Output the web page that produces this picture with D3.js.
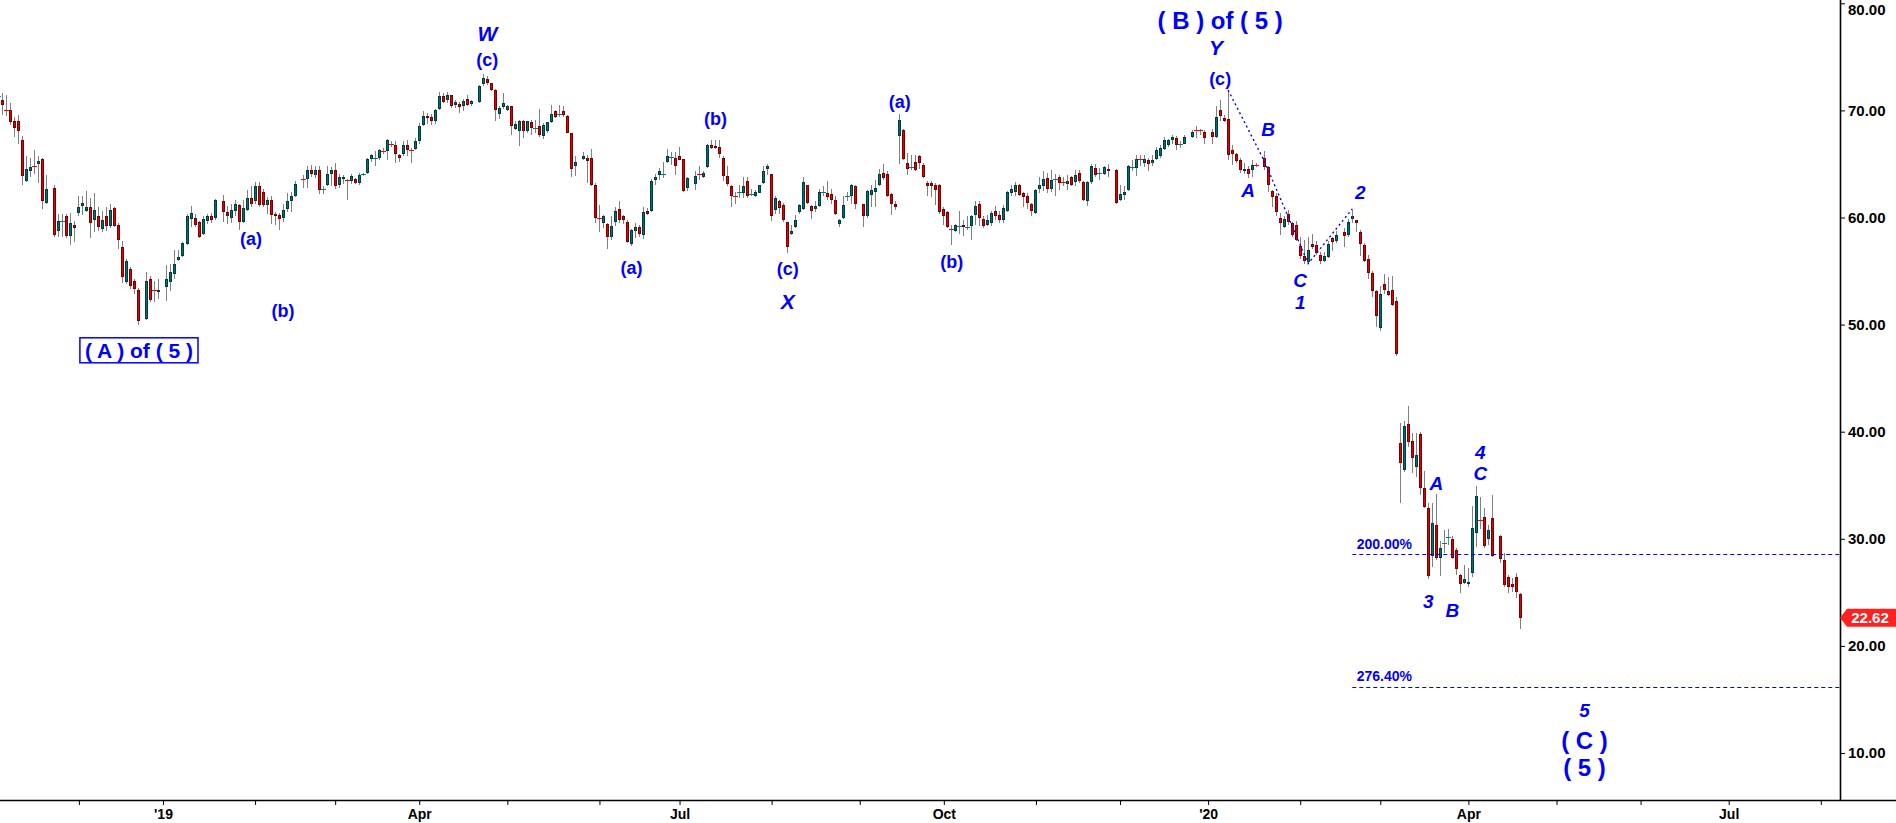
<!DOCTYPE html>
<html lang="en">
  <head>
    <meta charset="UTF-8" />
    <title>Elliott Wave Candlestick Chart</title>
    <script src="https://d3js.org/d3.v7.min.js"></script>
    <style>
      body {
        margin: 0;
        background: #fff;
      }
      svg {
        display: block;
        font-family: Arial, "Liberation Sans", sans-serif;
      }
    </style>
  </head>
  <body>
    <svg id="chart" width="1896" height="823"></svg>
    <script>
      // Daily candles from the first trading day; holidays are weekdays with no bar
      const startDate = "2018-11-05";
      const holidays = [
        "2018-11-22", "2018-12-25", "2019-01-01", "2019-01-21", "2019-02-18",
        "2019-04-19", "2019-05-27", "2019-07-04", "2019-09-02", "2019-11-28",
        "2019-12-25", "2020-01-01", "2020-01-20", "2020-02-17", "2020-04-10",
      ];

      const open = [
        71.35, 71.0, 70.05, 70.0, 69.0, 69.0, 67.2, 63.4, 64.3, 64.85,
        65.0, 65.5, 61.4, 62.8, 58.7, 59.65, 60.1, 58.3, 59.3, 60.4,
        61.1, 60.6, 61.0, 59.8, 60.1, 58.9, 60.1, 59.2, 60.9, 59.3,
        57.2, 54.0, 55.2, 54.1, 53.2, 50.5, 54.3, 53.25, 53.0, 53.5,
        54.0, 54.7, 56.0, 56.4, 57.5, 59.9, 60.0, 59.6, 58.5, 59.7,
        60.1, 60.0, 61.5, 60.5, 60.0, 60.6, 61.2, 59.6, 60.7, 61.8,
        61.5, 62.9, 62.4, 61.2, 61.6, 60.3, 60.2, 60.0, 60.8, 61.5,
        62.0, 63.65, 63.6, 64.4, 64.0, 64.4, 62.65, 63.0, 64.1, 64.4,
        63.0, 63.6, 63.55, 63.4, 63.6, 63.2, 64.05, 64.2, 65.5, 65.55,
        65.6, 66.25, 66.2, 66.85, 66.8, 65.8, 65.9, 66.8, 66.35, 66.4,
        67.1, 68.6, 69.5, 69.4, 69.0, 70.1, 71.3, 71.0, 71.4, 70.5,
        70.6, 70.4, 71.1, 70.6, 70.8, 72.5, 72.9, 72.6, 71.9, 69.7,
        70.3, 70.0, 70.4, 68.3, 68.1, 69.0, 68.1, 68.9, 68.35, 68.5,
        67.6, 68.1, 68.9, 69.9, 69.65, 69.9, 69.5, 67.9, 64.8, 65.5,
        65.6, 65.6, 63.0, 59.95, 59.5, 59.4, 58.2, 59.6, 60.8, 60.1,
        59.6, 57.5, 58.7, 59.1, 58.4, 60.6, 60.6, 63.5, 64.0, 64.05,
        65.2, 65.65, 65.6, 65.7, 65.5, 62.8, 63.1, 64.05, 63.8, 64.7,
        66.8, 66.7, 66.6, 65.6, 63.9, 62.9, 62.05, 62.35, 62.3, 63.4,
        62.15, 62.0, 62.3, 63.2, 64.5, 64.1, 60.7, 61.5, 61.2, 59.6,
        58.5, 59.1, 60.5, 60.8, 63.0, 61.1, 60.8, 61.1, 62.35, 62.3,
        62.2, 61.6, 59.4, 60.0, 61.95, 62.0, 62.9, 61.3, 60.1, 62.1,
        62.4, 63.0, 64.2, 64.1, 62.2, 61.3, 67.6, 68.2, 65.1, 64.65,
        65.2, 65.7, 64.9, 63.2, 63.2, 63.0, 63.0, 60.8, 60.5, 58.95,
        58.7, 59.15, 59.3, 59.05, 59.2, 60.2, 61.3, 59.9, 59.3, 59.5,
        60.6, 60.2, 59.8, 60.6, 62.3, 62.4, 63.0, 62.3, 62.0, 61.3,
        60.4, 62.7, 62.9, 63.7, 62.7, 63.55, 63.8, 63.35, 63.1, 63.8,
        63.3, 64.2, 63.3, 61.5, 63.3, 64.6, 64.15, 64.1, 64.5, 64.4,
        61.6, 62.1, 62.6, 64.7, 64.6, 65.45, 65.1, 65.4, 65.1, 65.5,
        65.7, 66.4, 66.8, 67.2, 67.4, 66.8, 66.9, 67.5, 68.15, 68.15,
        68.0, 68.0, 67.5, 70.0, 69.3, 69.2, 66.3, 65.9, 65.4, 64.35,
        64.5, 64.4, 64.95, 65.6, 64.7, 62.5, 62.0, 60.0, 59.1, 60.3,
        59.5, 59.3, 57.3, 56.4, 55.8, 57.5, 57.4, 56.5, 55.9, 56.3,
        58.1, 57.8, 58.6, 58.4, 59.9, 59.8, 58.6, 57.4, 56.1, 54.8,
        53.1, 49.7, 53.8, 53.1, 53.2, 52.2, 38.9, 36.4, 40.7, 39.1,
        36.7, 39.8, 34.7, 32.9, 28.4, 31.3, 28.2, 29.6, 30.1, 30.0,
        29.0, 26.6, 25.9, 25.75, 26.8, 30.5, 31.8, 32.0, 30.0, 31.9,
        30.3, 28.0, 26.4, 25.8, 26.4, 24.8,
      ];

      const high = [
        71.6, 71.6, 71.4, 70.7, 69.4, 69.6, 67.6, 65.7, 65.6, 66.3,
        65.7, 65.6, 64.0, 63.0, 60.3, 60.3, 60.3, 60.4, 59.7, 62.0,
        62.0, 62.5, 61.8, 62.3, 61.0, 60.6, 61.0, 61.3, 61.0, 59.5,
        57.8, 56.1, 55.4, 54.3, 53.4, 54.9, 54.5, 54.1, 54.3, 55.6,
        55.7, 57.0, 57.0, 57.7, 60.3, 61.1, 60.3, 59.7, 60.1, 60.3,
        60.4, 61.7, 62.1, 61.1, 61.3, 61.6, 61.3, 61.6, 62.6, 62.9,
        63.3, 63.3, 62.7, 61.9, 62.0, 60.5, 60.4, 61.3, 62.3, 62.4,
        63.4, 64.0, 64.8, 64.9, 64.8, 64.8, 62.9, 64.8, 64.7, 65.1,
        64.1, 64.0, 63.6, 64.1, 63.7, 64.2, 64.2, 65.6, 65.9, 66.2,
        66.4, 66.5, 67.3, 67.1, 67.1, 65.9, 67.1, 67.2, 66.5, 67.4,
        68.8, 69.9, 69.8, 69.7, 70.1, 71.7, 71.6, 71.7, 71.4, 71.0,
        70.8, 71.1, 71.4, 71.0, 72.4, 73.4, 73.2, 72.6, 72.0, 70.4,
        71.6, 70.5, 70.4, 69.0, 69.1, 69.1, 69.0, 69.1, 69.1, 70.1,
        68.8, 68.9, 70.5, 70.0, 70.5, 70.4, 69.6, 67.9, 65.7, 66.1,
        65.8, 66.4, 63.2, 61.2, 60.2, 59.5, 60.1, 61.0, 61.5, 60.2,
        59.8, 58.9, 59.5, 59.3, 61.0, 60.9, 63.6, 64.1, 64.6, 65.2,
        66.4, 66.1, 66.1, 66.6, 65.5, 63.8, 64.3, 64.8, 64.3, 66.9,
        67.2, 67.2, 67.2, 65.7, 64.8, 63.0, 62.4, 63.0, 63.8, 63.8,
        62.7, 62.6, 63.0, 64.8, 65.0, 64.1, 62.0, 61.6, 61.4, 59.6,
        59.3, 60.2, 61.3, 63.8, 63.0, 61.2, 61.5, 62.7, 62.9, 63.4,
        62.7, 62.0, 59.9, 62.0, 62.4, 63.1, 63.0, 61.3, 62.6, 63.0,
        63.5, 64.5, 65.0, 64.3, 62.3, 61.5, 69.7, 68.3, 66.0, 65.8,
        65.8, 65.8, 65.1, 63.4, 63.4, 63.2, 63.1, 61.0, 60.6, 59.3,
        59.4, 60.6, 59.8, 60.1, 60.2, 61.5, 61.5, 60.1, 60.2, 60.6,
        61.1, 60.6, 61.2, 62.5, 63.0, 63.3, 63.1, 62.4, 62.3, 61.4,
        62.7, 63.8, 64.3, 64.2, 64.4, 64.1, 64.0, 63.8, 64.0, 63.9,
        64.4, 64.4, 63.4, 63.4, 65.0, 65.0, 64.6, 64.8, 65.0, 64.5,
        63.0, 62.9, 64.9, 65.4, 65.8, 65.8, 65.8, 65.6, 65.8, 66.6,
        66.8, 67.5, 67.3, 67.7, 67.6, 67.1, 67.7, 68.2, 68.5, 68.3,
        68.2, 68.3, 70.4, 71.0, 69.6, 71.9, 66.8, 66.0, 65.6, 65.1,
        64.8, 65.4, 65.1, 66.2, 64.8, 62.6, 62.3, 60.4, 60.1, 60.7,
        59.6, 59.7, 58.2, 57.9, 58.2, 58.5, 57.8, 56.8, 56.8, 57.8,
        58.2, 58.7, 59.0, 59.9, 60.7, 59.8, 58.8, 57.6, 56.5, 55.0,
        53.2, 53.6, 54.7, 54.4, 54.5, 52.6, 40.8, 41.0, 42.4, 39.9,
        39.9, 40.0, 36.3, 33.3, 33.3, 34.2, 29.8, 30.8, 30.9, 30.3,
        29.1, 26.7, 27.6, 27.3, 33.1, 34.9, 33.9, 32.9, 31.3, 34.1,
        30.4, 28.7, 26.6, 26.3, 26.8, 24.9,
      ];

      const low = [
        71.1, 69.6, 69.5, 68.6, 67.5, 66.9, 63.0, 63.3, 63.8, 64.1,
        63.2, 60.8, 61.3, 58.2, 58.2, 58.2, 58.1, 57.4, 57.7, 60.1,
        60.2, 60.5, 58.1, 58.6, 58.7, 58.6, 58.7, 59.0, 59.1, 57.1,
        53.9, 53.8, 53.3, 52.9, 50.0, 50.4, 52.1, 52.1, 52.4, 52.2,
        53.1, 54.3, 55.9, 56.3, 57.4, 59.1, 59.1, 58.1, 58.4, 59.4,
        59.5, 59.8, 59.6, 59.4, 59.5, 60.1, 58.8, 59.5, 60.6, 61.0,
        61.3, 61.0, 61.0, 60.3, 59.4, 59.3, 58.8, 59.6, 60.5, 60.5,
        61.9, 62.8, 62.8, 63.8, 63.7, 62.2, 62.2, 62.9, 62.9, 62.7,
        62.8, 63.1, 61.6, 63.1, 63.1, 63.0, 63.9, 64.1, 65.2, 64.8,
        65.4, 65.9, 65.4, 66.6, 65.1, 65.2, 65.7, 65.7, 65.1, 66.3,
        66.9, 68.5, 68.7, 68.6, 68.7, 70.0, 70.7, 70.7, 70.2, 70.2,
        69.8, 69.9, 70.4, 70.4, 70.7, 72.3, 72.4, 71.8, 69.0, 69.2,
        70.1, 69.9, 67.7, 68.2, 66.7, 67.4, 67.9, 67.7, 67.9, 67.5,
        67.3, 67.9, 68.8, 69.3, 69.4, 69.4, 67.9, 63.8, 63.9, 65.4,
        63.2, 62.9, 59.5, 58.6, 59.0, 57.1, 57.9, 59.2, 59.5, 59.4,
        57.6, 57.3, 58.1, 58.2, 58.0, 60.2, 60.5, 63.0, 63.5, 63.7,
        65.1, 64.9, 64.0, 65.4, 62.4, 62.5, 62.6, 63.5, 63.7, 64.6,
        66.4, 66.4, 65.6, 63.4, 62.9, 61.0, 61.3, 61.8, 61.8, 61.8,
        62.0, 61.9, 62.3, 63.1, 64.0, 59.7, 60.3, 60.3, 59.6, 56.7,
        58.4, 59.0, 60.3, 60.7, 61.3, 59.9, 60.5, 61.0, 62.0, 61.6,
        61.3, 60.2, 59.1, 59.9, 61.5, 61.3, 60.8, 59.1, 60.0, 61.0,
        61.0, 62.9, 63.5, 61.9, 60.2, 60.7, 65.0, 65.4, 64.0, 64.4,
        64.3, 64.5, 63.7, 62.0, 61.9, 61.2, 60.3, 59.3, 59.0, 57.4,
        58.6, 58.5, 58.3, 58.8, 57.9, 59.3, 59.2, 59.0, 59.2, 59.2,
        59.8, 59.5, 59.5, 60.5, 62.0, 62.0, 62.0, 61.0, 60.8, 60.1,
        60.3, 62.3, 62.5, 62.3, 62.4, 62.0, 62.6, 62.9, 62.6, 62.9,
        62.9, 63.2, 61.5, 61.1, 63.1, 63.8, 63.5, 64.0, 63.8, 61.3,
        61.5, 61.6, 62.5, 64.3, 63.9, 64.8, 64.7, 64.3, 64.8, 65.4,
        65.6, 66.3, 66.6, 66.9, 66.3, 66.5, 66.85, 67.4, 67.4, 67.7,
        66.9, 66.9, 67.4, 69.0, 68.9, 65.4, 64.9, 65.1, 64.2, 64.1,
        63.7, 63.8, 64.7, 64.4, 62.4, 61.0, 60.1, 58.4, 59.0, 59.3,
        58.2, 57.8, 56.1, 55.7, 55.7, 57.1, 56.5, 55.7, 55.85, 56.2,
        56.9, 57.6, 57.2, 58.2, 59.5, 58.6, 56.4, 55.8, 54.3, 52.6,
        49.8, 49.4, 52.9, 52.7, 51.7, 47.1, 33.3, 36.2, 38.6, 36.1,
        35.8, 34.1, 32.9, 26.2, 27.4, 28.0, 26.5, 28.7, 29.4, 28.1,
        26.6, 24.9, 25.8, 25.5, 26.4, 29.2, 30.9, 29.1, 29.4, 28.3,
        27.7, 25.5, 24.9, 25.0, 24.5, 21.6,
      ];

      const close = [
        71.4, 70.5, 70.0, 68.9, 68.4, 68.1, 63.9, 64.5, 64.7, 64.8,
        65.3, 61.5, 62.7, 58.4, 59.7, 59.7, 58.3, 59.5, 59.0, 61.0,
        61.4, 61.0, 59.5, 60.7, 59.1, 59.8, 59.2, 60.7, 59.2, 57.9,
        54.4, 55.9, 53.6, 53.3, 50.3, 54.1, 52.3, 53.2, 53.2, 54.3,
        54.9, 55.7, 56.3, 57.6, 60.1, 60.4, 59.3, 58.2, 59.9, 60.1,
        59.8, 61.6, 60.5, 60.1, 60.7, 61.3, 59.6, 60.9, 61.8, 61.3,
        62.9, 61.2, 61.2, 61.6, 60.2, 60.1, 59.9, 60.7, 61.5, 62.0,
        63.1, 63.6, 64.4, 64.1, 64.4, 62.6, 62.7, 64.1, 64.4, 62.9,
        63.8, 63.8, 63.5, 63.9, 63.2, 64.0, 64.1, 65.5, 65.8, 65.6,
        66.3, 66.2, 67.2, 66.8, 65.9, 65.6, 66.8, 66.3, 66.3, 67.1,
        68.5, 69.5, 69.3, 69.0, 70.0, 71.3, 70.8, 71.4, 70.4, 70.8,
        70.3, 70.9, 70.5, 70.9, 72.3, 73.0, 72.6, 71.9, 70.0, 70.2,
        70.7, 70.4, 68.5, 68.7, 69.0, 68.1, 69.0, 68.4, 68.4, 67.7,
        68.6, 68.9, 69.7, 69.4, 69.7, 69.6, 67.9, 64.5, 65.2, 65.7,
        65.3, 63.0, 60.0, 59.9, 60.1, 58.2, 59.2, 60.6, 59.8, 59.8,
        57.7, 58.8, 59.1, 58.5, 60.5, 60.3, 63.4, 63.8, 64.3, 64.1,
        65.7, 65.7, 64.8, 65.4, 62.5, 63.7, 63.9, 64.0, 64.2, 66.8,
        66.5, 66.5, 65.9, 63.9, 63.1, 62.0, 62.0, 62.4, 62.9, 62.0,
        62.2, 62.4, 63.0, 64.3, 64.8, 60.1, 61.8, 60.9, 59.8, 57.2,
        58.7, 59.8, 61.2, 63.3, 61.4, 60.6, 61.1, 62.4, 62.4, 61.9,
        61.6, 60.3, 59.8, 61.2, 62.0, 63.0, 61.3, 60.1, 62.5, 62.6,
        62.8, 64.1, 63.7, 62.0, 61.3, 61.0, 69.1, 65.5, 64.5, 64.7,
        64.4, 65.1, 63.8, 62.9, 62.9, 62.6, 60.5, 60.1, 59.1, 58.9,
        59.3, 59.2, 59.1, 59.1, 60.1, 61.1, 60.0, 59.2, 59.8, 60.4,
        60.1, 59.8, 60.9, 62.4, 62.7, 63.0, 62.1, 61.9, 61.4, 60.6,
        62.6, 63.0, 63.6, 62.7, 63.5, 63.6, 63.2, 63.3, 63.4, 63.0,
        64.0, 63.4, 61.6, 63.3, 64.8, 64.0, 64.2, 64.7, 64.3, 61.4,
        62.2, 62.4, 64.8, 64.75, 65.5, 65.4, 65.5, 65.0, 65.4, 66.3,
        66.5, 67.2, 67.2, 67.5, 66.8, 66.85, 67.5, 68.0, 68.1, 68.1,
        67.4, 67.5, 69.4, 69.5, 69.0, 65.8, 65.9, 65.3, 64.4, 64.5,
        64.1, 64.9, 64.9, 64.7, 63.0, 61.9, 60.5, 59.5, 59.9, 59.6,
        58.4, 57.9, 56.4, 55.9, 57.0, 57.2, 56.7, 55.9, 56.4, 57.5,
        57.7, 58.4, 58.3, 59.6, 60.1, 59.5, 57.5, 55.9, 54.8, 53.1,
        50.8, 52.9, 53.2, 52.8, 51.8, 47.3, 37.1, 40.5, 39.0, 37.5,
        37.8, 34.7, 33.0, 26.5, 31.5, 28.2, 29.1, 29.65, 30.15, 28.2,
        27.2, 25.8, 26.2, 25.95, 31.0, 34.0, 31.75, 29.3, 30.8, 28.4,
        28.1, 25.7, 25.5, 25.5, 25.0, 22.62,
      ];

      const priceTicks = [10, 20, 30, 40, 50, 60, 70, 80];
      const quarterNames = { 3: "Apr", 6: "Jul", 9: "Oct" };

      // Elliott wave labels: text, date column, price level, style
      const waveLabels = [
        ["( A ) of ( 5 )", "2018-12-24", 47.6, "boxed"],
        ["(a)", "2019-01-31", 58.0, "paren"],
        ["(b)", "2019-02-12", 51.3, "paren"],
        ["W", "2019-04-24", 77.2, "major"],
        ["(c)", "2019-04-24", 74.75, "paren"],
        ["(a)", "2019-06-13", 55.25, "paren"],
        ["(b)", "2019-07-12", 69.2, "paren"],
        ["(c)", "2019-08-07", 55.15, "paren"],
        ["X", "2019-08-07", 52.2, "major"],
        ["(a)", "2019-09-16", 70.8, "paren"],
        ["(b)", "2019-10-03", 55.8, "paren"],
        ["( B ) of ( 5 )", "2020-01-06", 78.4, "degree"],
        ["Y", "2020-01-03", 75.9, "major"],
        ["(c)", "2020-01-06", 72.9, "paren"],
        ["A", "2020-01-15", 62.5, "minor"],
        ["B", "2020-01-22", 68.2, "minor"],
        ["C", "2020-02-03", 54.1, "minor"],
        ["1", "2020-02-03", 52.1, "minor"],
        ["2", "2020-02-24", 62.3, "minor"],
        ["A", "2020-03-20", 35.2, "minor"],
        ["3", "2020-03-18", 24.1, "minor"],
        ["B", "2020-03-26", 23.3, "minor"],
        ["4", "2020-04-06", 38.1, "minor"],
        ["C", "2020-04-06", 36.1, "minor"],
        ["5", "2020-05-12", 14.0, "minor"],
        ["( C )", "2020-05-12", 11.2, "degree"],
        ["( 5 )", "2020-05-12", 8.6, "degree"],
      ];

      // dotted wave path: candle numbers (0-based) and prices
      const waveIdx = [295, 303, 314, 324];
      const waveVal = [71.9, 65.3, 55.7, 60.8];

      // fibonacci extension lines
      const fibLevels = [28.55, 16.19];
      const fibLabels = ["200.00%", "276.40%"];
      const fibStart = 324;
      const fibLabelDate = "2020-03-03";

      const plotW = 1840;
      const plotH = 800;
      const blue = "#0000ff";
      const dayMs = 864e5;
      const origin = Date.UTC(2018, 10, 1);

      // number of weekdays since 1 Nov 2018 (axis is spaced by weekdays)
      function weekdayIndex(s) {
        const t = Date.parse(s);
        let n = 0;
        for (let d = origin; d < t; d += dayMs) {
          const wd = new Date(d).getUTCDay();
          if (wd !== 0 && wd !== 6) n++;
        }
        return n;
      }

      // trading days for the candles
      const tradingDays = [];
      for (let d = Date.parse(startDate); tradingDays.length < close.length; d += dayMs) {
        const dt = new Date(d);
        const wd = dt.getUTCDay();
        const s = dt.toISOString().slice(0, 10);
        if (wd === 0 || wd === 6 || holidays.includes(s)) continue;
        tradingDays.push(s);
      }
      const candleW = [];
      let wi = weekdayIndex(startDate);
      {
        let k = 0;
        for (let d = Date.parse(startDate); k < tradingDays.length; d += dayMs) {
          const dt = new Date(d);
          const wd = dt.getUTCDay();
          if (wd === 0 || wd === 6) continue;
          const s = dt.toISOString().slice(0, 10);
          if (s === tradingDays[k]) {
            candleW.push(wi);
            k++;
          }
          wi++;
        }
      }

      const svg = d3.select("#chart");

      const x = d3.scaleLinear().domain([2.3, 461.8]).range([0, plotW]);
      const y = d3.scaleLinear().domain([10, 80]).range([753, 3.3]);

      svg
        .append("defs")
        .append("clipPath")
        .attr("id", "plot-clip")
        .append("rect")
        .attr("x", 0)
        .attr("y", 0)
        .attr("width", plotW)
        .attr("height", plotH);

      // Candles
      const candles = svg
        .append("g")
        .attr("clip-path", "url(#plot-clip)")
        .attr("shape-rendering", "crispEdges");

      const data = close.map((c, i) => ({
        w: candleW[i],
        o: open[i],
        h: high[i],
        l: low[i],
        c: c,
      }));

      data.forEach((d) => {
        const px = Math.floor(x(d.w));
        const g = candles.append("g");
        g.append("line")
          .attr("x1", px + 0.5)
          .attr("x2", px + 0.5)
          .attr("y1", Math.round(y(d.h)))
          .attr("y2", Math.round(y(d.l)))
          .attr("stroke", "#808080")
          .attr("stroke-width", 1);

        const up = d.c >= d.o;
        if (Math.abs(d.c - d.o) < 0.08) {
          g.append("rect")
            .attr("x", px - 2)
            .attr("y", Math.round(y((d.o + d.c) / 2)))
            .attr("width", 5)
            .attr("height", 1)
            .attr("fill", up ? "#008080" : "#ff0000");
          return;
        }
        const top = Math.round(y(Math.max(d.o, d.c)));
        const bot = Math.round(y(Math.min(d.o, d.c)));
        const hgt = Math.max(1, bot - top);
        g.append("rect")
          .attr("x", px - 1)
          .attr("y", top)
          .attr("width", 3)
          .attr("height", hgt)
          .attr("fill", up ? "#003c3c" : "#7a0000");
        if (hgt > 2) {
          g.append("rect")
            .attr("x", px)
            .attr("y", top + 1)
            .attr("width", 1)
            .attr("height", hgt - 2)
            .attr("fill", up ? "#007070" : "#e00000");
        }
      });

      // Dotted wave path
      const waveLine = d3
        .line()
        .x((d) => x(candleW[d[0]]))
        .y((d) => y(d[1]));
      svg
        .append("path")
        .datum(waveIdx.map((k, i) => [k, waveVal[i]]))
        .attr("d", waveLine)
        .attr("fill", "none")
        .attr("stroke", blue)
        .attr("stroke-width", 1.4)
        .attr("stroke-dasharray", "2,3");

      // Fibonacci levels
      fibLevels.forEach((lv, i) => {
        svg
          .append("line")
          .attr("x1", x(candleW[fibStart]))
          .attr("x2", plotW)
          .attr("y1", Math.round(y(lv)) + 0.5)
          .attr("y2", Math.round(y(lv)) + 0.5)
          .attr("stroke", blue)
          .attr("stroke-width", 1)
          .attr("stroke-dasharray", "4,3");
        svg
          .append("text")
          .attr("x", x(weekdayIndex(fibLabelDate)))
          .attr("y", y(lv + 0.98))
          .attr("text-anchor", "middle")
          .attr("dominant-baseline", "central")
          .attr("font-size", 14)
          .attr("font-weight", "bold")
          .attr("fill", blue)
          .text(fibLabels[i]);
      });

      // Wave labels
      const styles = {
        paren: { size: 18, italic: false },
        minor: { size: 19, italic: true },
        major: { size: 21, italic: true },
        degree: { size: 24, italic: false },
        boxed: { size: 21, italic: false },
      };
      waveLabels.forEach(([txt, date, val, kind]) => {
        const st = styles[kind];
        const tx = x(weekdayIndex(date));
        const ty = y(val);
        const t = svg
          .append("text")
          .attr("x", tx)
          .attr("y", ty)
          .attr("text-anchor", "middle")
          .attr("dominant-baseline", "central")
          .attr("font-size", st.size)
          .attr("font-weight", "bold")
          .attr("font-style", st.italic ? "italic" : "normal")
          .attr("fill", blue)
          .text(txt);
        if (kind === "boxed") {
          const bb = t.node().getBBox();
          svg
            .insert("rect", () => t.node())
            .attr("x", bb.x - 5)
            .attr("y", bb.y - 1)
            .attr("width", bb.width + 10)
            .attr("height", bb.height + 2)
            .attr("fill", "#fff")
            .attr("stroke", blue)
            .attr("stroke-width", 1.5);
        }
      });

      // Bottom (date) axis: a tick at the first weekday of every month
      const monthTicks = [];
      for (let yr = 2018, mo = 11; yr < 2020 || mo <= 7; ) {
        const d = new Date(Date.UTC(yr, mo, 1));
        while (d.getUTCDay() === 0 || d.getUTCDay() === 6) d.setUTCDate(d.getUTCDate() + 1);
        const label =
          mo === 0 ? "'" + String(yr).slice(2) : quarterNames[mo] || "";
        monthTicks.push({ w: weekdayIndex(d.toISOString().slice(0, 10)), label });
        mo++;
        if (mo === 12) {
          mo = 0;
          yr++;
        }
      }

      const xAxis = svg
        .append("g")
        .attr("transform", `translate(0,${plotH})`)
        .call(
          d3
            .axisBottom(x)
            .tickValues(monthTicks.map((t) => t.w))
            .tickFormat((d, i) => monthTicks[i].label)
            .tickSize(5)
            .tickPadding(4)
        );
      xAxis.select(".domain").remove();
      xAxis.selectAll("line").attr("stroke", "#000");
      xAxis
        .selectAll("text")
        .attr("font-size", 14)
        .attr("font-weight", "bold")
        .attr("font-family", "Arial, 'Liberation Sans', sans-serif")
        .attr("fill", "#000");

      svg
        .append("line")
        .attr("x1", 0)
        .attr("x2", 1896)
        .attr("y1", plotH + 0.5)
        .attr("y2", plotH + 0.5)
        .attr("stroke", "#000")
        .attr("stroke-width", 1.6);

      // Right (price) axis
      const yAxis = svg
        .append("g")
        .attr("transform", `translate(${plotW},0)`)
        .call(
          d3
            .axisRight(y)
            .tickValues(priceTicks)
            .tickFormat(d3.format(".2f"))
            .tickSize(5)
            .tickPadding(3)
        );
      yAxis.select(".domain").remove();
      yAxis.selectAll("line").attr("stroke", "#000");
      yAxis
        .selectAll("text")
        .attr("font-size", 15)
        .attr("font-weight", "bold")
        .attr("font-family", "Arial, 'Liberation Sans', sans-serif")
        .attr("fill", "#000");
      // keep the top label inside the picture
      yAxis
        .selectAll(".tick")
        .filter((d) => d === 80)
        .select("text")
        .attr("dy", "0.32em")
        .attr("y", 6);

      svg
        .append("line")
        .attr("x1", plotW + 0.5)
        .attr("x2", plotW + 0.5)
        .attr("y1", 0)
        .attr("y2", plotH)
        .attr("stroke", "#000")
        .attr("stroke-width", 1.6);

      // Last price tag
      const last = close[close.length - 1];
      const ly = y(last);
      svg
        .append("path")
        .attr(
          "d",
          `M${plotW},${ly} L${plotW + 7},${ly - 9} L1896,${ly - 9} L1896,${ly + 9} L${plotW + 7},${ly + 9} Z`
        )
        .attr("fill", "#ff2020");
      svg
        .append("text")
        .attr("x", plotW + 30)
        .attr("y", ly)
        .attr("text-anchor", "middle")
        .attr("dominant-baseline", "central")
        .attr("font-size", 15)
        .attr("font-weight", "bold")
        .attr("fill", "#fff")
        .text(last.toFixed(2));
    </script>
  </body>
</html>
